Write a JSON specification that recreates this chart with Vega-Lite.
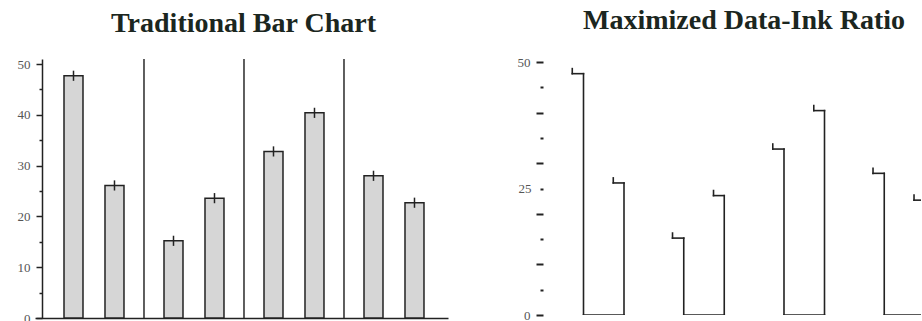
{
  "$schema": "https://vega.github.io/schema/vega-lite/v6.json",
  "padding": {"left": 17, "top": 7, "right": 0, "bottom": 0},
  "background": "white",
  "bounds": "flush",
  "spacing": 95,
  "config": {"view": {"stroke": null}, "font": "Liberation Serif"},
  "datasets": {
    "bars": [
      {"group": "1", "bar": "A", "value": 47.7, "lo": 46.7, "hi": 48.7},
      {"group": "1", "bar": "B", "value": 26.1, "lo": 25.1, "hi": 27.1},
      {"group": "2", "bar": "A", "value": 15.2, "lo": 14.2, "hi": 16.2},
      {"group": "2", "bar": "B", "value": 23.6, "lo": 22.6, "hi": 24.6},
      {"group": "3", "bar": "A", "value": 32.8, "lo": 31.8, "hi": 33.8},
      {"group": "3", "bar": "B", "value": 40.4, "lo": 39.4, "hi": 41.4},
      {"group": "4", "bar": "A", "value": 28.0, "lo": 27.0, "hi": 29.0},
      {"group": "4", "bar": "B", "value": 22.7, "lo": 21.7, "hi": 23.7}
    ]
  },
  "hconcat": [
    {
      "width": 413,
      "height": 259,
      "title": {"text": "Traditional Bar Chart", "font": "Liberation Serif", "fontSize": 28, "fontWeight": "bold", "color": "#1b2620", "frame": "group", "baseline": "alphabetic", "offset": -2, "dx": 2},
      "data": {"name": "bars"},
      "layer": [
        {
          "mark": {"type": "bar", "fill": "#d6d6d6", "stroke": "#222222", "strokeWidth": 1.5},
          "encoding": {
            "x": {"field": "group", "type": "nominal", "scale": {"paddingInner": 0, "paddingOuter": 0.065, "align": 0.692},
                  "axis": {"title": null, "labels": false, "ticks": false, "domain": true, "domainColor": "#222222", "domainWidth": 1.5, "grid": false}},
            "xOffset": {"field": "bar", "type": "nominal", "scale": {"paddingInner": 0.5366, "paddingOuter": 0.488}},
            "y": {"field": "value", "type": "quantitative", "scale": {"domain": [0, 51], "nice": false},
                  "axis": {"title": null, "grid": false, "offset": -7, "tickCount": 20, "values": [0, 5, 10, 15, 20, 25, 30, 35, 40, 45, 50],
                           "labelExpr": "datum.value % 10 === 0 ? datum.label : ''",
                           "tickSize": {"condition": {"test": "datum.value % 10 === 0", "value": 6}, "value": 3},
                           "tickColor": "#222222", "tickWidth": 1.5, "domainColor": "#222222", "domainWidth": 1.5,
                           "labelFont": "Liberation Serif", "labelFontSize": 13, "labelColor": "#555555", "labelPadding": 6}}
          }
        },
        {
          "mark": {"type": "rule", "color": "#222222", "strokeWidth": 1.5},
          "encoding": {
            "x": {"field": "group", "type": "nominal"},
            "xOffset": {"field": "bar", "type": "nominal"},
            "y": {"field": "lo", "type": "quantitative"},
            "y2": {"field": "hi"}
          }
        },
        {
          "mark": {"type": "rule", "color": "#2a2a2a", "strokeWidth": 1.5},
          "transform": [{"filter": "datum.bar === 'A' && datum.group !== '1'"}],
          "encoding": {
            "x": {"field": "group", "type": "nominal", "bandPosition": 0}
          }
        }
      ]
    },
    {
      "width": 378,
      "height": 256,
      "title": {"text": "Maximized Data-Ink Ratio", "font": "Liberation Serif", "fontSize": 28, "fontWeight": "bold", "color": "#1b2620", "frame": "group", "baseline": "alphabetic", "offset": -1, "dx": 12},
      "data": {"name": "bars"},
      "layer": [
        {
          "mark": {"type": "rule", "clip": true, "color": "#222222", "strokeWidth": 1.6, "strokeCap": "square"},
          "transform": [{"filter": "datum.bar === 'A'"}],
          "encoding": {
            "x": {"field": "group", "type": "nominal", "bandPosition": 0.394, "scale": {"range": [1, 402], "paddingInner": 0, "paddingOuter": 0}, "axis": null},
            "y": {"field": "value", "type": "quantitative", "scale": {"domain": [0, 50.6], "nice": false},
                  "axis": {"title": null, "grid": false, "domain": false, "tickCount": 20, "values": [0, 5, 10, 15, 20, 25, 30, 35, 40, 45, 50],
                           "labelExpr": "datum.value % 25 === 0 ? datum.label : ''",
                           "tickSize": {"condition": {"test": "datum.value % 10 === 0", "value": 7}, "value": 3},
                           "labelPadding": {"expr": "datum.value % 10 === 0 ? 6 : 9"},
                           "tickColor": "#222222", "tickWidth": 2,
                           "labelFont": "Liberation Serif", "labelFontSize": 13, "labelColor": "#555555"}},
            "y2": {"datum": 0}
          }
        },
        {
          "mark": {"type": "rule", "clip": true, "color": "#222222", "strokeWidth": 1.6, "strokeCap": "square"},
          "transform": [{"filter": "datum.bar === 'B'"}],
          "encoding": {
            "x": {"field": "group", "type": "nominal", "bandPosition": 0.798},
            "y": {"field": "value", "type": "quantitative"},
            "y2": {"datum": 0}
          }
        },
        {
          "mark": {"type": "rule", "clip": true, "color": "#222222", "strokeWidth": 1.6, "strokeCap": "square"},
          "transform": [{"filter": "datum.bar === 'A'"}],
          "encoding": {
            "x": {"field": "group", "type": "nominal", "bandPosition": 0.282},
            "x2": {"field": "group", "bandPosition": 0.394},
            "y": {"field": "value", "type": "quantitative"}
          }
        },
        {
          "mark": {"type": "rule", "clip": true, "color": "#222222", "strokeWidth": 1.6, "strokeCap": "square"},
          "transform": [{"filter": "datum.bar === 'B'"}],
          "encoding": {
            "x": {"field": "group", "type": "nominal", "bandPosition": 0.691},
            "x2": {"field": "group", "bandPosition": 0.798},
            "y": {"field": "value", "type": "quantitative"}
          }
        },
        {
          "mark": {"type": "rule", "clip": true, "color": "#222222", "strokeWidth": 1.6, "strokeCap": "square"},
          "transform": [{"filter": "datum.bar === 'A'"}],
          "encoding": {
            "x": {"field": "group", "type": "nominal", "bandPosition": 0.282},
            "y": {"field": "value", "type": "quantitative"},
            "y2": {"field": "hi"}
          }
        },
        {
          "mark": {"type": "rule", "clip": true, "color": "#222222", "strokeWidth": 1.6, "strokeCap": "square"},
          "transform": [{"filter": "datum.bar === 'B'"}],
          "encoding": {
            "x": {"field": "group", "type": "nominal", "bandPosition": 0.691},
            "y": {"field": "value", "type": "quantitative"},
            "y2": {"field": "hi"}
          }
        },
        {
          "mark": {"type": "rule", "clip": true, "color": "#222222", "strokeWidth": 1.6, "strokeCap": "square"},
          "transform": [{"filter": "datum.bar === 'A'"}],
          "encoding": {
            "x": {"field": "group", "type": "nominal", "bandPosition": 0.394},
            "x2": {"field": "group", "bandPosition": 0.798},
            "y": {"datum": 0, "type": "quantitative"}
          }
        }
      ]
    }
  ]
}
